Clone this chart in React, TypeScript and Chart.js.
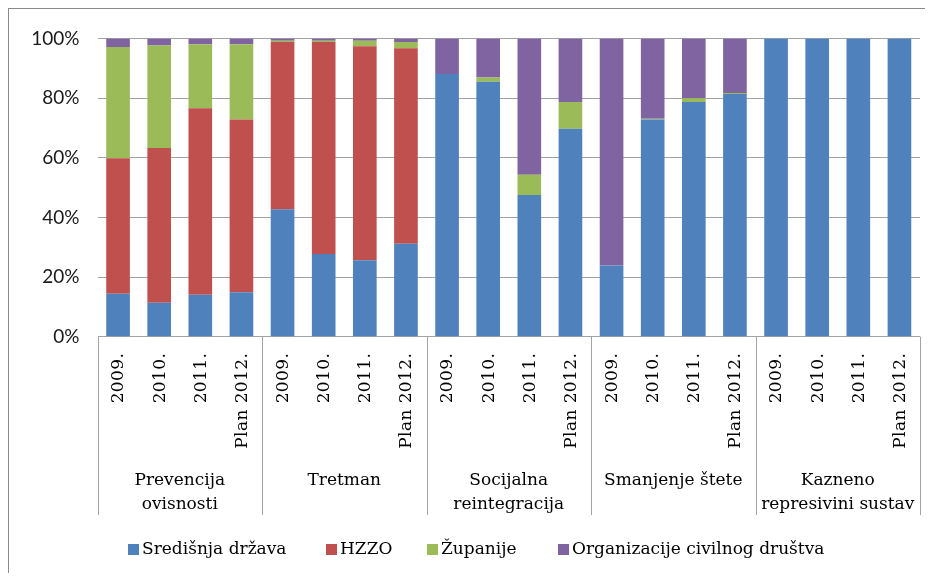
import React, { useEffect, useRef } from "react";
import { Chart, registerables } from "chart.js";

Chart.register(...registerables);

const years = ["2009.", "2010.", "2011.", "Plan 2012."];
const groups = [
  ["Prevencija", "ovisnosti"],
  ["Tretman"],
  ["Socijalna", "reintegracija"],
  ["Smanjenje štete"],
  ["Kazneno", "represivini sustav"],
];
const categories = groups.flatMap((g) => years.map((y) => g.join(" ") + " " + y));

const seriesNames = ["Središnja država", "HZZO", "Županije", "Organizacije civilnog društva"];
const srednjaDrzava = [14.4, 11.4, 14.1, 14.9, 42.7, 27.7, 25.6, 31.2, 88.1, 85.5, 47.5, 69.7, 23.9, 72.8, 78.7, 81.4, 100, 100, 100, 100];
const hzzo = [45.4, 51.9, 62.5, 57.9, 56.1, 71.1, 71.8, 65.5, 0, 0, 0, 0, 0, 0, 0, 0, 0, 0, 0, 0];
const zupanije = [37.3, 34.3, 21.4, 25.2, 0.4, 0.4, 1.8, 2.1, 0, 1.4, 6.8, 9.0, 0, 0.3, 1.2, 0.3, 0, 0, 0, 0];
const ocd = [2.9, 2.4, 2.0, 2.0, 0.8, 0.8, 0.8, 1.2, 11.9, 13.1, 45.7, 21.3, 76.1, 26.9, 20.1, 18.3, 0, 0, 0, 0];
const yTicks = [0, 20, 40, 60, 80, 100];

const colors = ["#4f81bd", "#c0504d", "#9bbb59", "#8064a2"];
const SERIF = '17px "DejaVu Serif"';
const GRID = "#a3a3a3";
const legendX = [119, 317, 418, 549];

const overlayPlugin = {
  id: "overlay",
  afterDraw(chart: any) {
    const ctx = chart.ctx;
    const xs = chart.scales.x;
    const area = chart.chartArea;
    const perGroup = years.length;
    ctx.save();
    // year labels (rotated)
    ctx.font = SERIF;
    ctx.fillStyle = "#000";
    ctx.textAlign = "right";
    ctx.textBaseline = "middle";
    try { (ctx as any).letterSpacing = "0.4px"; } catch (e) {}
    categories.forEach((_, i) => {
      const x = xs.getPixelForValue(i) + 1;
      ctx.save();
      ctx.translate(x, area.bottom + 16);
      ctx.rotate(-Math.PI / 2);
      ctx.fillText(years[i % perGroup], 0, 0);
      ctx.restore();
    });
    try { (ctx as any).letterSpacing = "0px"; } catch (e) {}
    // group separators
    ctx.strokeStyle = GRID;
    ctx.lineWidth = 1;
    for (let g = 0; g <= groups.length; g++) {
      const x = Math.round(xs.getPixelForValue(g * perGroup - 0.5)) + 0.5;
      ctx.beginPath();
      ctx.moveTo(x, area.bottom);
      ctx.lineTo(x, 506);
      ctx.stroke();
    }
    // group labels
    ctx.textAlign = "center";
    ctx.textBaseline = "alphabetic";
    groups.forEach((lines, g) => {
      const cx = (xs.getPixelForValue(g * perGroup - 0.5) + xs.getPixelForValue(g * perGroup + perGroup - 0.5)) / 2;
      lines.forEach((t, k) => ctx.fillText(t, cx, 475.5 + k * 24.5));
    });
    // legend
    ctx.textAlign = "left";
    ctx.textBaseline = "middle";
    seriesNames.forEach((name, i) => {
      const x = legendX[i];
      ctx.fillStyle = colors[i];
      ctx.fillRect(x, 535, 11, 11);
      ctx.fillStyle = "#000";
      ctx.fillText(name, x + 14, 540.5);
    });
    ctx.restore();
  },
};

export default function App() {
  const ref = useRef<HTMLCanvasElement>(null);
  useEffect(() => {
    if (!ref.current) return;
    const data = [srednjaDrzava, hzzo, zupanije, ocd];
    const chart = new Chart(ref.current, {
      type: "bar",
      data: {
        labels: categories,
        datasets: seriesNames.map((name, i) => ({
          label: name,
          data: data[i],
          backgroundColor: colors[i],
          borderWidth: 0,
          categoryPercentage: 1,
          barPercentage: 0.575,
        })),
      },
      options: {
        animation: false,
        responsive: true,
        maintainAspectRatio: false,
        layout: { padding: { top: 26.5, right: 13, bottom: 0, left: 0 } },
        plugins: { legend: { display: false }, tooltip: { enabled: false } },
        scales: {
          x: {
            stacked: true,
            grid: { display: false },
            border: { display: false },
            ticks: { display: false },
            afterFit: (s: any) => { s.height = 236.3; },
          },
          y: {
            stacked: true,
            min: 0,
            max: 100,
            afterBuildTicks: (s: any) => { s.ticks = yTicks.map((v) => ({ value: v })); },
            grid: { color: GRID, lineWidth: 1, drawTicks: false },
            border: { display: false },
            ticks: {
              padding: 18,
              color: "#1a1a1a",
              font: { family: "Lato", size: 19 },
              callback: (v: any) => v + "%",
            },
            afterFit: (s: any) => { s.width = 88.5; },
          },
        },
      },
      plugins: [overlayPlugin],
    });
    return () => chart.destroy();
  }, []);
  return (
    <div
      style={{
        width: 925,
        height: 565,
        boxSizing: "border-box",
        borderLeft: "1px solid #8a8a8a",
        borderTop: "1px solid #8a8a8a",
        background: "#fff",
      }}
    >
      <div style={{ position: "relative", width: 924, height: 564 }}>
        <canvas ref={ref} />
      </div>
    </div>
  );
}
